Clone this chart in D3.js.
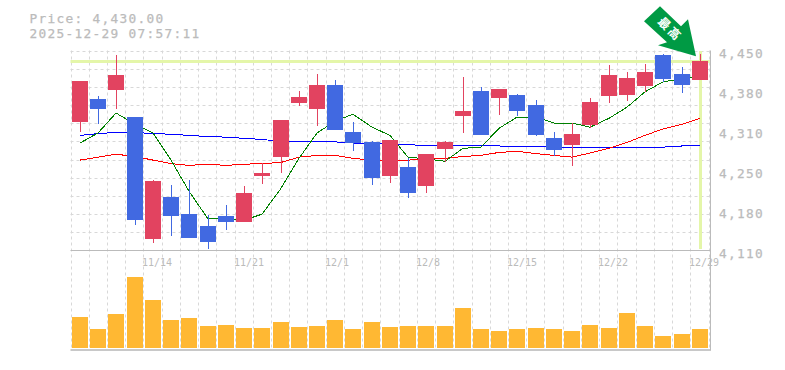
<!DOCTYPE html>
<html>
<head>
<meta charset="utf-8">
<script src="https://cdn.jsdelivr.net/npm/d3@7"></script>
<style>
  body { margin: 0; background: #fff; }
  text { font-family: "DejaVu Sans Mono", "Liberation Mono", monospace; fill: #bbb; }
  .big { font-size: 12.8px; letter-spacing: 1.3px; stroke: #bbb; stroke-width: 0.25px; }
</style>
</head>
<body>
<svg class="chart"></svg>
<script>
var dates = ["11/10", "11/11", "11/12", "11/13", "11/14", "11/17", "11/18", "11/19", "11/20", "11/21",
  "11/25", "11/26", "11/27", "11/28", "12/1", "12/2", "12/3", "12/4", "12/5", "12/8",
  "12/9", "12/10", "12/11", "12/12", "12/15", "12/16", "12/17", "12/18", "12/19", "12/22",
  "12/23", "12/24", "12/25", "12/26", "12/29"];
var dateLabels = ["11/14", "11/21", "12/1", "12/8", "12/15", "12/22", "12/29"];
var priceTicks = [4450, 4380, 4310, 4250, 4180, 4110];

var opens = [4327, 4366, 4381, 4335, 4128, 4199, 4170, 4150, 4167, 4157, 4235, 4267, 4359, 4349, 4390, 4310, 4293, 4235,
  4250, 4218, 4281, 4337, 4379, 4368, 4373, 4356, 4300, 4288, 4322, 4371, 4373, 4388, 4441, 4408, 4398];
var highs = [4396, 4371, 4441, 4335, 4228, 4220, 4228, 4169, 4186, 4218, 4257, 4330, 4379, 4408, 4398, 4327, 4294, 4296,
  4266, 4272, 4294, 4403, 4386, 4383, 4374, 4364, 4310, 4325, 4368, 4424, 4412, 4425, 4442, 4420, 4442];
var lows = [4310, 4323, 4349, 4152, 4121, 4133, 4130, 4111, 4143, 4157, 4221, 4240, 4354, 4320, 4313, 4277, 4220, 4223,
  4198, 4206, 4259, 4308, 4305, 4339, 4337, 4303, 4269, 4252, 4317, 4359, 4362, 4378, 4395, 4376, 4398];
var closes = [4396, 4349, 4407, 4160, 4226, 4167, 4130, 4123, 4157, 4206, 4240, 4330, 4369, 4390, 4313, 4291, 4232, 4296,
  4206, 4272, 4293, 4345, 4305, 4383, 4345, 4305, 4279, 4306, 4361, 4407, 4402, 4412, 4400, 4390, 4430];
var volumes = [310, 190, 340, 710, 480, 280, 300, 220, 230, 200, 200, 260, 210, 220, 280, 190, 260, 210,
  220, 220, 220, 400, 190, 170, 190, 200, 190, 170, 230, 200, 350, 220, 120, 140, 190];
var maShort = [4291, 4308, 4342, 4323, 4308, 4262, 4209, 4162, 4162, 4160, 4170, 4214, 4265, 4308, 4328, 4340, 4318, 4304,
  4267, 4264, 4260, 4282, 4284, 4316, 4335, 4335, 4325, 4325, 4318, 4333, 4352, 4378, 4395, 4400, 4405];
var maMid = [4262, 4267, 4272, 4268, 4262, 4256, 4253, 4255, 4253, 4255, 4256, 4258, 4267, 4270, 4270, 4265, 4262, 4262,
  4262, 4263, 4265, 4268, 4270, 4275, 4277, 4273, 4270, 4267, 4274, 4282, 4292, 4304, 4315, 4323, 4333];
var maLong = [4304, 4307, 4309, 4309, 4307, 4306, 4304, 4302, 4301, 4299, 4297, 4294, 4294, 4294, 4293, 4291, 4291, 4290,
  4288, 4287, 4287, 4286, 4286, 4286, 4285, 4285, 4284, 4284, 4284, 4284, 4284, 4284, 4284, 4286, 4287];
var lastPrice = 4430;
var title = ["Price: 4,430.00", "2025-12-29 07:57:11"];
var arrowLabel = "最高";

var width = 785, height = 370;
var plotLeft = 70.5, plotRight = 710.5, plotTop = 50.5, plotMid = 250.5, plotBottom = 350;
var barWidth = 16;
var red = "#e24360", blue = "#4169e1", gold = "#ffb833", hl = "#e4f6a9", gridCol = "#d8d8d8", axisCol = "#bbb", frameCol = "#c8c8c8", arrowCol = "#009a44";

var svg = d3.select(".chart")
  .attr("width", width)
  .attr("height", height)
  .style("display", "block");

var x = d3.scaleBand()
  .domain(dates)
  .range([70.5, 708.5]);

var y = d3.scaleLinear()
  .domain([4110, 4450])
  .range([249.5, 49.5]);

var yVol = d3.scaleLinear()
  .domain([0, 1000])
  .range([348, 248]);

function cx(i) {
  return Math.round(x(dates[i]) + 1.5) + barWidth / 2;
}

// grid, one vertical per band plus the closing one
var gridX = dates.map(function(d) { return x(d); }).concat([x.range()[1]]);

svg.selectAll(".vgrid")
  .data(gridX)
  .enter().append("line")
  .attr("class", "vgrid")
  .attr("x1", function(d) { return Math.round(d) + 0.5; })
  .attr("x2", function(d) { return Math.round(d) + 0.5; })
  .attr("y1", plotTop)
  .attr("y2", plotBottom)
  .attr("stroke", gridCol)
  .attr("stroke-dasharray", "3 3");

svg.selectAll(".hgrid")
  .data(d3.range(11))
  .enter().append("line")
  .attr("class", "hgrid")
  .attr("x1", plotLeft)
  .attr("x2", plotRight)
  .attr("y1", function(d) { return Math.round(plotTop + d * (plotMid - plotTop) / 11) + 0.5; })
  .attr("y2", function(d) { return Math.round(plotTop + d * (plotMid - plotTop) / 11) + 0.5; })
  .attr("stroke", gridCol)
  .attr("stroke-dasharray", "3 3");

// current price highlight
svg.append("rect")
  .attr("x", plotLeft)
  .attr("y", Math.round(y(lastPrice)) - 1)
  .attr("width", plotRight - plotLeft)
  .attr("height", 3)
  .attr("fill", hl);

svg.append("rect")
  .attr("x", cx(34) - 1)
  .attr("y", 51)
  .attr("width", 3)
  .attr("height", 198)
  .attr("fill", hl);

// frame
[[plotLeft, plotMid, plotRight, plotMid, 1, axisCol], [plotLeft, plotBottom, plotRight + 0.5, plotBottom, 2, frameCol], [plotRight, plotTop, plotRight, plotBottom, 1, axisCol]].forEach(function(l) {
  svg.append("line")
    .attr("x1", l[0]).attr("y1", l[1])
    .attr("x2", l[2]).attr("y2", l[3])
    .attr("stroke", l[5])
    .attr("stroke-width", l[4]);
});

// moving averages
var line = d3.line()
  .x(function(d, i) { return cx(i); })
  .y(function(d) { return y(d); });

[[maLong, "#0000ff"], [maMid, "#ff0000"], [maShort, "#008000"]].forEach(function(s) {
  svg.append("path")
    .attr("d", line(s[0]))
    .attr("fill", "none")
    .attr("stroke", s[1])
    .attr("stroke-width", 1)
    .attr("shape-rendering", "crispEdges");
});

// candles
var candle = svg.selectAll(".candle")
  .data(dates)
  .enter().append("g")
  .attr("class", "candle")
  .attr("fill", function(d, i) { return closes[i] >= opens[i] ? red : blue; });

candle.append("rect")
  .attr("x", function(d, i) { return cx(i); })
  .attr("y", function(d, i) { return Math.round(y(highs[i])); })
  .attr("width", 1)
  .attr("height", function(d, i) { return Math.round(y(lows[i])) - Math.round(y(highs[i])); });

candle.append("rect")
  .attr("x", function(d, i) { return cx(i) - barWidth / 2; })
  .attr("y", function(d, i) { return Math.round(y(Math.max(opens[i], closes[i]))); })
  .attr("width", barWidth)
  .attr("height", function(d, i) {
    return Math.round(y(Math.min(opens[i], closes[i]))) - Math.round(y(Math.max(opens[i], closes[i])));
  });

// volume
svg.selectAll(".vol")
  .data(volumes)
  .enter().append("rect")
  .attr("class", "vol")
  .attr("x", function(d, i) { return cx(i) - barWidth / 2; })
  .attr("y", function(d) { return yVol(d); })
  .attr("width", barWidth)
  .attr("height", function(d) { return yVol(0) - yVol(d); })
  .attr("fill", gold);

// axes
var yLabels = d3.scalePoint()
  .domain(priceTicks)
  .range([53, 253]);

var yAxis = d3.axisRight(yLabels)
  .tickSize(0)
  .tickPadding(0)
  .tickFormat(d3.format(","));

var yAxisG = svg.append("g")
  .attr("transform", "translate(719,0)")
  .call(yAxis);
yAxisG.select(".domain").remove();
yAxisG.attr("font-family", null).attr("font-size", null);
yAxisG.selectAll("text").attr("class", "big");

svg.selectAll(".xlabel")
  .data(dateLabels)
  .enter().append("text")
  .attr("class", "xlabel")
  .attr("x", function(d) { return Math.round(x(d)) - 1; })
  .attr("y", 266)
  .style("font-size", "10px")
  .text(function(d) { return d; });

svg.selectAll(".title")
  .data(title)
  .enter().append("text")
  .attr("class", "title big")
  .attr("x", 29.5)
  .attr("y", function(d, i) { return 23 + i * 15; })
  .text(function(d) { return d; });

// arrow pointing at the last candle, offsets are from its centre and the price line
var ax = cx(34), ay = y(lastPrice);
var arrowPts = [[-40, -55], [-56, -40], [-33, -19], [-42, -16], [-4, -5], [-12, -42], [-19, -35]];
svg.append("polygon")
  .attr("points", arrowPts.map(function(p) { return (ax + p[0]) + "," + (ay + p[1]); }).join(" "))
  .attr("fill", arrowCol);

svg.append("text")
  .attr("transform", "translate(" + (ax - 33) + "," + (ay - 29) + ") rotate(45)")
  .attr("text-anchor", "middle")
  .attr("font-weight", "bold")
  .style("font-family", '"Noto Sans CJK JP"')
  .style("font-size", "12px")
  .style("letter-spacing", "2px")
  .style("fill", "#fff")
  .text(arrowLabel);
</script>
</body>
</html>
